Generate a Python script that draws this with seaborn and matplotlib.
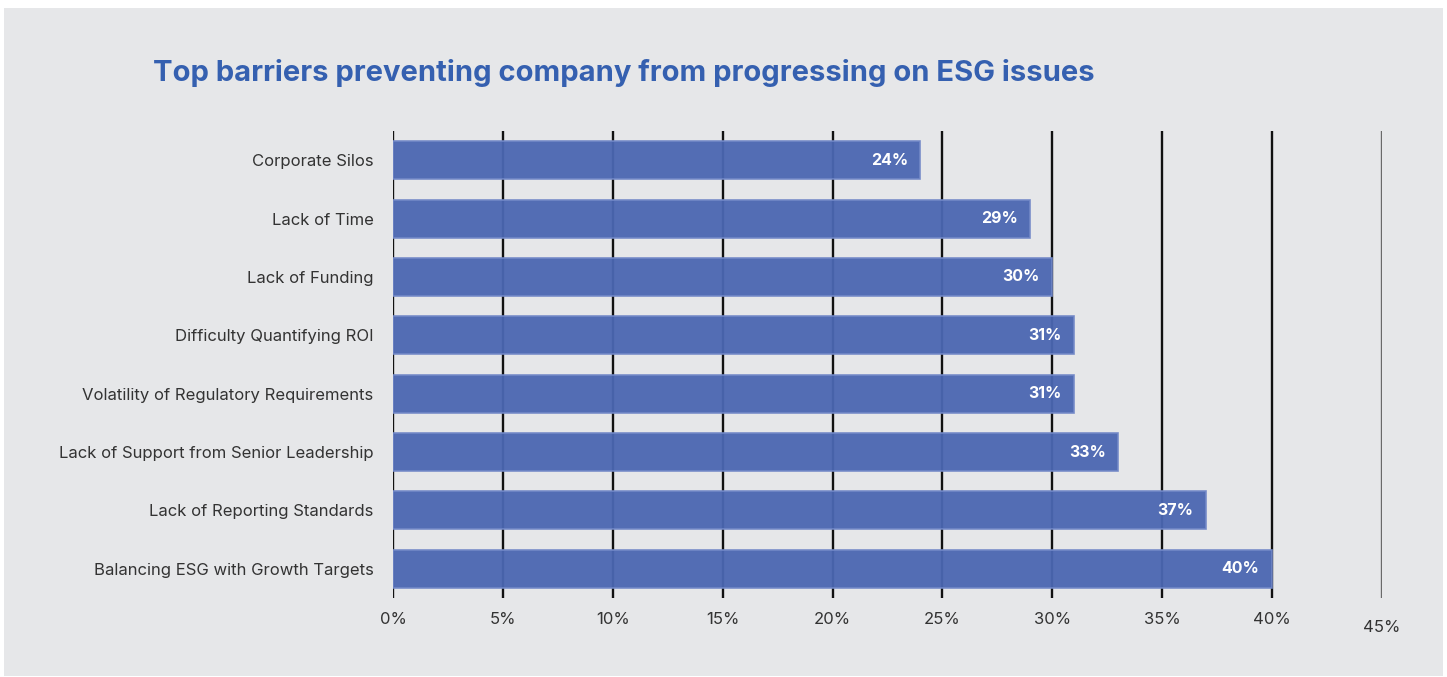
import matplotlib
matplotlib.use("Agg")
import matplotlib.pyplot as plt
import seaborn as sns
import pandas as pd
from matplotlib.patches import Rectangle

categories = [
    "Corporate Silos",
    "Lack of Time",
    "Lack of Funding",
    "Difficulty Quantifying ROI",
    "Volatility of Regulatory Requirements",
    "Lack of Support from Senior Leadership",
    "Lack of Reporting Standards",
    "Balancing ESG with Growth Targets",
]
values = [24, 29, 30, 31, 31, 33, 37, 40]
x_ticks = [0, 5, 10, 15, 20, 25, 30, 35, 40, 45]
title = "Top barriers preventing company from progressing on ESG issues"

sns.set_theme(style="white")
plt.rcParams["font.family"] = ["Inter", "DejaVu Sans"]

BG = "#e6e7e9"
BAR = "#4b67b2"
TITLE_C = "#3560b0"

W, H = 1447, 677
fig = plt.figure(figsize=(W / 100, H / 100), dpi=100)
fig.patch.set_facecolor("white")
fig.patches.append(Rectangle((4 / W, 1 - 676 / H), (1443 - 4) / W, (676 - 8) / H,
                             transform=fig.transFigure, facecolor=BG, edgecolor="none", zorder=-10))

ax_l, ax_r, ax_t, ax_b = 393, 1382, 131, 598
ax = fig.add_axes([ax_l / W, 1 - ax_b / H, (ax_r - ax_l) / W, (ax_b - ax_t) / H])
ax.set_facecolor("none")

df = pd.DataFrame({"cat": categories, "val": values})
sns.barplot(data=df, y="cat", x="val", orient="h", color=BAR, width=0.65,
            saturation=1, ax=ax, zorder=3, edgecolor="#7389c8", linewidth=1.2, alpha=0.95)

ax.set_xlim(0, 45)
ax.set_ylim(7.5, -0.5)
for t in x_ticks:
    ax.axvline(t, color="#111111" if t < 45 else "#6a6a6a", lw=1.7, zorder=1)

for sp in ax.spines.values():
    sp.set_visible(False)

ax.set_xticks(x_ticks[:-1])
ax.set_xticklabels([f"{t}%" for t in x_ticks[:-1]], fontsize=12, color="#333333")
ax.annotate(f"{x_ticks[-1]}%", xy=(45, 0), xycoords=("data", "axes fraction"),
            xytext=(0, -16), textcoords="offset points", ha="center", va="top",
            fontsize=12, color="#333333")
ax.tick_params(axis="x", length=0, pad=10)
ax.tick_params(axis="y", length=0, pad=14)
ax.set_yticks(range(len(categories)))
ax.set_yticklabels(categories, fontsize=12, color="#333333")
ax.set_xlabel("")
ax.set_ylabel("")

for i, v in enumerate(values):
    ax.annotate(f"{v}%", xy=(v, i), xytext=(-9, 0), textcoords="offset points",
                ha="right", va="center", color="white", fontsize=11.5, fontweight="bold", zorder=5)

fig.text(153 / W, 1 - 73 / H, title, ha="left", va="center", fontsize=21,
         fontweight="bold", color=TITLE_C)

fig.savefig("out.png", dpi=100, facecolor=fig.get_facecolor())
